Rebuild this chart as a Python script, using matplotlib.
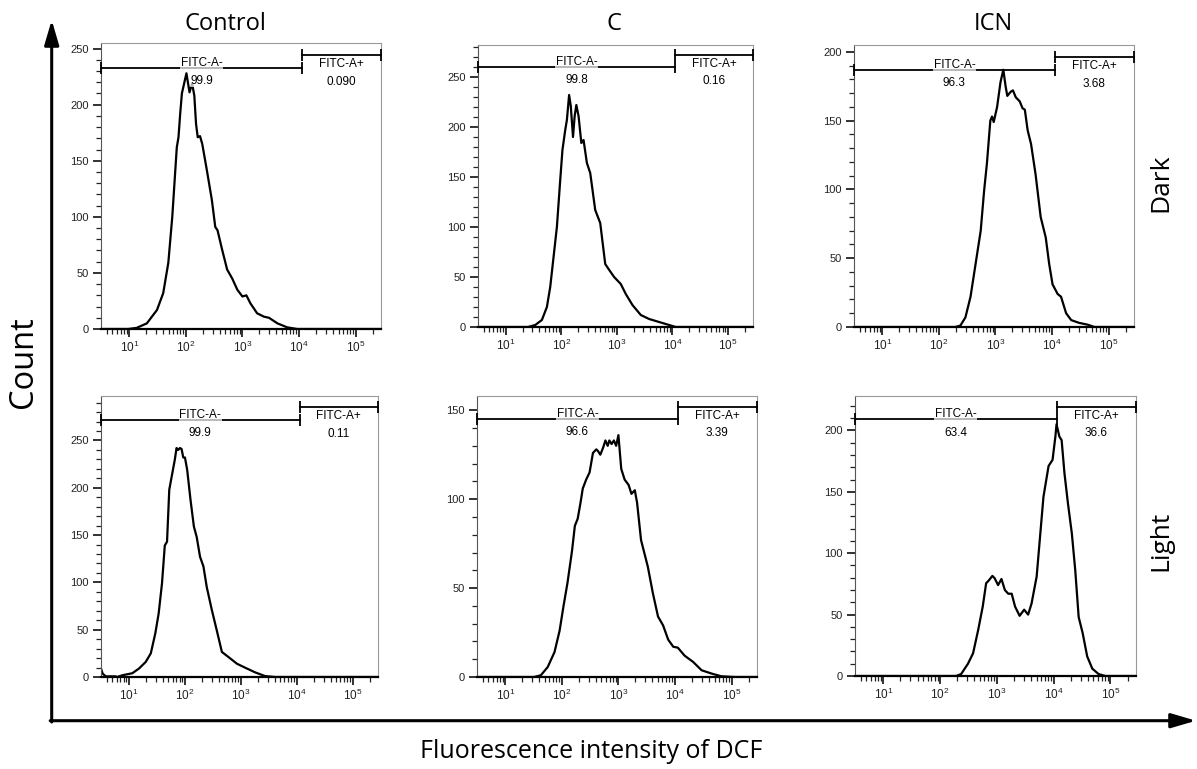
import matplotlib
matplotlib.use('Agg')
import matplotlib.pyplot as plt
import numpy as np
from matplotlib.ticker import FixedLocator, FuncFormatter, MultipleLocator, LogLocator, NullFormatter
from matplotlib.patches import FancyArrowPatch

plt.rcParams['font.family'] = ['Liberation Sans', 'DejaVu Sans']
plt.rcParams['mathtext.default'] = 'regular'

W, H = 1197, 769

conditions = ['Control', 'C', 'ICN']
treatments = ['Dark', 'Light']

# log10(FITC-A) and event count
ctrl_dark_logx = [0.52, 0.98, 1.13, 1.31, 1.49, 1.60, 1.69, 1.76, 1.84, 1.87, 1.90, 1.93, 2.01, 2.065, 2.11,
                  2.15, 2.18, 2.21, 2.25, 2.29, 2.37, 2.46, 2.52, 2.56, 2.64, 2.73, 2.82, 2.91, 3.00, 3.07,
                  3.14, 3.26, 3.38, 3.47, 3.62, 3.79, 3.97, 5.45]
ctrl_dark_count = [0, 0, 1, 5, 17, 32, 59, 100, 162, 171, 192, 210, 228, 211, 219,
                   208, 183, 171, 172, 165, 142, 115, 91, 88, 71, 53, 45, 35, 29, 30,
                   23, 14, 11, 10, 5, 1.5, 0, 0]

c_dark_logx = [0.52, 1.40, 1.53, 1.65, 1.74, 1.80, 1.86, 1.92, 1.98, 2.02, 2.07, 2.10, 2.14, 2.17, 2.21,
               2.24, 2.27, 2.31, 2.36, 2.40, 2.46, 2.52, 2.61, 2.70, 2.79, 2.85, 2.95, 3.07, 3.16, 3.28,
               3.43, 3.58, 3.76, 3.94, 4.06, 5.45]
c_dark_count = [0, 0, 2, 7, 20, 40, 70, 100, 147, 177, 197, 207, 232, 221, 190,
                211, 222, 211, 184, 187, 164, 154, 117, 104, 63, 58, 50, 43, 33, 22,
                12, 8, 5, 2, 0, 0]

icn_dark_logx = [0.52, 2.29, 2.38, 2.47, 2.56, 2.65, 2.74, 2.80, 2.85, 2.91, 2.94, 2.97, 3.03, 3.09, 3.14,
                 3.18, 3.21, 3.27, 3.31, 3.36, 3.43, 3.48, 3.52, 3.57, 3.63, 3.71, 3.80, 3.89, 3.95, 4.01,
                 4.10, 4.16, 4.25, 4.34, 4.48, 4.63, 4.75, 5.45]
icn_dark_count = [0, 0, 1, 7, 22, 46, 70, 99, 119, 150, 153, 149, 160, 178, 187,
                  175, 168, 171, 172, 167, 164, 159, 158, 143, 133, 111, 80, 65, 46, 31,
                  24, 22, 10, 5, 3, 1.7, 0, 0]

ctrl_light_logx = [0.50, 0.53, 0.585, 0.76, 0.79, 0.88, 1.06, 1.18, 1.30, 1.39, 1.47, 1.53, 1.59, 1.64,
                   1.68, 1.72, 1.77, 1.82, 1.85, 1.88, 1.91, 1.94, 1.97, 2.00, 2.04, 2.10, 2.16, 2.21,
                   2.27, 2.33, 2.39, 2.48, 2.57, 2.66, 2.78, 2.93, 3.07, 3.25, 3.43, 3.61, 5.45]
ctrl_light_count = [9, 3.5, 0.7, 0.7, 0, 1.8, 4, 9, 16, 25, 46, 67, 99, 139,
                    143, 198, 214, 230, 242, 240, 242, 241, 232, 232, 219, 187, 159, 148,
                    127, 117, 95, 71, 49, 26.5, 21, 14, 10, 5, 1, 0, 0]

c_light_logx = [0.52, 1.51, 1.63, 1.75, 1.87, 1.96, 2.03, 2.10, 2.18, 2.23, 2.28, 2.33, 2.37, 2.43, 2.49,
                2.55, 2.61, 2.64, 2.68, 2.73, 2.77, 2.81, 2.84, 2.88, 2.92, 2.96, 3.00, 3.05, 3.11, 3.18,
                3.23, 3.29, 3.33, 3.40, 3.52, 3.61, 3.70, 3.79, 3.88, 3.97, 4.05, 4.17, 4.32, 4.47, 4.65,
                4.82, 5.06, 5.45]
c_light_count = [0, 0, 1, 5.6, 14, 26, 40, 53, 71, 85, 89, 98, 106, 111, 115,
                 126, 128, 127, 125, 129, 133, 130, 133, 131, 133, 130, 136, 117, 111, 108,
                 103, 105, 98, 77, 62, 47, 34, 29, 21, 17, 16.5, 12, 8.5, 3.8, 1.9,
                 0.4, 0, 0]

icn_light_logx = [0.52, 2.28, 2.37, 2.49, 2.58, 2.67, 2.75, 2.81, 2.86, 2.92, 2.96, 3.02, 3.08, 3.14,
                  3.20, 3.26, 3.32, 3.40, 3.48, 3.55, 3.61, 3.70, 3.77, 3.82, 3.91, 3.98, 4.03, 4.05,
                  4.10, 4.14, 4.19, 4.25, 4.32, 4.38, 4.44, 4.51, 4.59, 4.68, 4.79, 4.91, 5.45]
icn_light_count = [0, 0, 1.6, 10, 18.5, 37.5, 56.5, 75.5, 78, 81.5, 79.6, 74, 79, 70,
                   67, 67, 56.5, 49, 54, 50, 59, 81, 119, 146, 171, 176, 195, 205,
                   195, 192, 165, 141, 116, 86, 48, 35, 16, 6, 1.6, 0, 0]

# gate percentages (FITC-A- / FITC-A+)
neg_pct = [['99.9', '99.8', '96.3'], ['99.9', '96.6', '63.4']]
pos_pct = [['0.090', '0.16', '3.68'], ['0.11', '3.39', '36.6']]
# y-axis maxima and gate bar heights (count units)
y_max = [[255, 282, 205], [297, 158, 228]]
neg_bar = [[233, 260, 187], [272, 145, 209]]
pos_bar = [[244, 272, 196], [285, 152, 219]]
gate_split = 10 ** 4.05

curves = [[(ctrl_dark_logx, ctrl_dark_count), (c_dark_logx, c_dark_count), (icn_dark_logx, icn_dark_count)],
          [(ctrl_light_logx, ctrl_light_count), (c_light_logx, c_light_count), (icn_light_logx, icn_light_count)]]

# panel boxes in pixels (left, top, right, bottom)
boxes = [[(101, 43, 381, 329), (478, 45, 753, 327), (854, 45, 1134, 327)],
         [(101, 396, 378, 677), (477, 396, 757, 677), (855, 396, 1136, 676)]]

fig = plt.figure(figsize=(W / 100, H / 100), dpi=100)

xlo, xhi = 10 ** 0.5, 10 ** 5.45


def decade_label(v, pos):
    return r'$\mathregular{10^{%d}}$' % round(np.log10(v))


for r in range(2):
    for c in range(3):
        l, t, rr, b = boxes[r][c]
        ax = fig.add_axes([l / W, 1 - b / H, (rr - l) / W, (b - t) / H])
        lx, cnt = curves[r][c]
        ax.plot(10 ** np.array(lx), cnt, color='black', lw=1.6, zorder=2)
        ax.set_xscale('log')
        ax.set_xlim(xlo, xhi)
        ax.set_ylim(0, y_max[r][c])

        ax.xaxis.set_major_locator(FixedLocator([10.0 ** k for k in range(1, 6)]))
        ax.xaxis.set_minor_locator(LogLocator(base=10, subs=np.arange(2, 10), numticks=20))
        ax.xaxis.set_major_formatter(FuncFormatter(decade_label))
        ax.xaxis.set_minor_formatter(NullFormatter())
        ax.yaxis.set_major_locator(MultipleLocator(50))
        ax.yaxis.set_minor_locator(MultipleLocator(10))
        ax.tick_params(which='major', length=6, width=1.3, labelsize=8, pad=3, colors='#222222')
        ax.tick_params(axis='x', which='major', labelsize=8.5, pad=2)
        ax.tick_params(which='minor', length=3.5, width=0.9, colors='#222222')

        for s in ['top', 'right']:
            ax.spines[s].set_color('#999999')
            ax.spines[s].set_linewidth(0.8)
        ax.spines['left'].set_color('#555555')
        ax.spines['left'].set_linewidth(0.8)
        ax.spines['bottom'].set_color('black')
        ax.spines['bottom'].set_linewidth(1.6)

        # gates
        ax.plot([xlo, gate_split], [neg_bar[r][c]] * 2, color='black', lw=1.3,
                marker='|', ms=9, mew=1.3, clip_on=False, zorder=3)
        ax.plot([gate_split, xhi], [pos_bar[r][c]] * 2, color='black', lw=1.3,
                marker='|', ms=9, mew=1.3, clip_on=False, zorder=3)
        xn = np.sqrt(xlo * gate_split)
        xp = np.sqrt(gate_split * xhi)
        box_style = dict(fc='white', ec='none', alpha=0.7, pad=0.3)
        ax.annotate('FITC-A-', xy=(xn, neg_bar[r][c]), xytext=(0, 3.5), textcoords='offset points',
                    ha='center', va='center', fontsize=8.5, bbox=box_style, zorder=5)
        ax.annotate(neg_pct[r][c], xy=(xn, neg_bar[r][c]), xytext=(0, -9.5), textcoords='offset points',
                    ha='center', va='center', fontsize=8.5, bbox=box_style, zorder=5)
        ax.annotate('FITC-A+', xy=(xp, pos_bar[r][c]), xytext=(0, -6.5), textcoords='offset points',
                    ha='center', va='center', fontsize=8.5, bbox=box_style, zorder=5)
        ax.annotate(pos_pct[r][c], xy=(xp, pos_bar[r][c]), xytext=(0, -19), textcoords='offset points',
                    ha='center', va='center', fontsize=8.5, bbox=box_style, zorder=5)

title_font = ['Open Sans', 'DejaVu Sans']
for name, xc in zip(conditions, [225, 614, 993]):
    fig.text(xc / W, 1 - 24 / H, name, ha='center', va='center', fontsize=17, family=title_font)
for name, yc in zip(treatments, [183, 541]):
    fig.text(1161 / W, 1 - yc / H, name, ha='center', va='center', rotation=90, fontsize=19,
             family=title_font)
fig.text(23 / W, 1 - 362 / H, 'Count', ha='center', va='center', rotation=90, fontsize=23.5,
         family=title_font)
fig.text(591 / W, 1 - 752 / H, 'Fluorescence intensity of DCF', ha='center', va='center',
         fontsize=18, family=title_font)

# big axis arrows
arrow_kw = dict(transform=fig.transFigure, arrowstyle='-|>,head_length=0.75,head_width=0.22',
                mutation_scale=20, lw=2.2, color='black', shrinkA=0, shrinkB=0)
fig.add_artist(FancyArrowPatch((51.7 / W, 1 - 722 / H), (51.7 / W, 1 - 20 / H), **arrow_kw))
fig.add_artist(FancyArrowPatch((50.2 / W, 1 - 720.7 / H), (1196 / W, 1 - 720.7 / H), **arrow_kw))

fig.savefig('out.png', dpi=100)
